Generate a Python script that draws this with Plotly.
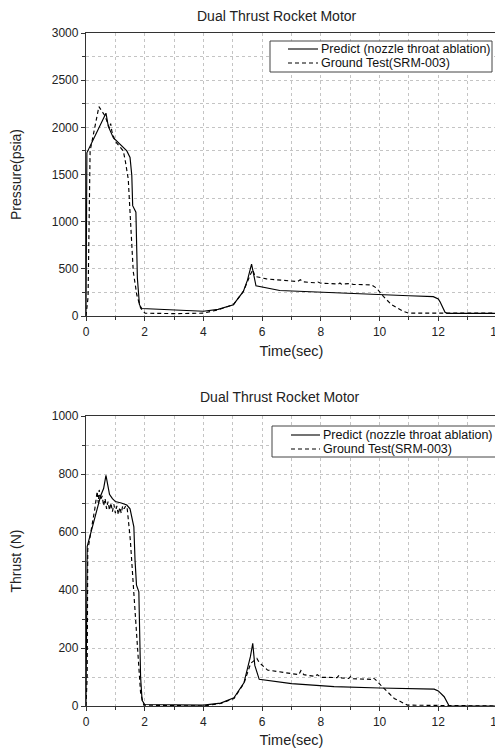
import plotly.graph_objects as go

# ---------------- data ----------------
# Pressure, Predict (nozzle throat ablation)
p_pred_t = [0.00, 0.03, 0.68, 0.76, 0.93, 1.10, 1.39, 1.50, 1.56, 1.59, 1.67, 1.70, 1.75, 1.82, 1.90,
            2.5, 3.0, 3.5, 4.0, 4.5, 5.02, 5.36, 5.50, 5.64, 5.72, 5.79, 6.6, 8.0, 10.0, 11.0, 11.83,
            12.0, 12.06, 12.15, 12.23, 12.3, 14.0]
p_pred_v = [0, 1730, 2150, 2010, 1890, 1840, 1750, 1680, 1490, 1170, 1120, 1100, 400, 120, 80,
            70, 62, 55, 50, 70, 120, 260, 380, 550, 420, 320, 270, 250, 225, 215, 205,
            180, 150, 100, 40, 28, 28]

# Pressure, Ground Test(SRM-003)
p_test_t = [0.00, 0.07, 0.14, 0.44, 0.65, 0.80, 0.84, 0.88, 0.99, 1.16, 1.27, 1.33, 1.44, 1.50, 1.56,
            1.61, 1.73, 1.86, 2.01, 3.0, 4.0, 4.5, 5.02, 5.36, 5.60, 5.68, 5.76, 6.15, 7.2, 7.3,
            7.4, 7.8, 7.9, 8.0, 8.6, 8.65, 8.7, 9.0, 9.1, 9.73, 9.9, 10.13, 10.41, 10.81, 11.0, 14.0]
p_test_v = [0, 200, 1750, 2220, 2120, 1990, 2040, 1960, 1855, 1785, 1750, 1660, 1450, 1100, 750,
            470, 225, 85, 30, 25, 30, 65, 120, 260, 440, 490, 420, 393, 365, 385,
            362, 352, 360, 348, 340, 350, 338, 345, 335, 330, 295, 207, 119, 49, 30, 30]

# Thrust, Predict (nozzle throat ablation)
f_pred_t = [0.00, 0.04, 0.50, 0.60, 0.68, 0.75, 0.80, 0.90, 1.00, 1.20, 1.39, 1.50, 1.63, 1.67, 1.72,
            1.80, 1.83, 1.86, 1.91, 2.00, 4.00, 4.59, 5.04, 5.38, 5.60, 5.68, 5.75, 5.90, 7.0, 8.45,
            10.0, 11.86, 12.0, 12.2, 12.37, 14.0]
f_pred_v = [0, 550, 725, 750, 795, 760, 730, 715, 705, 700, 693, 680, 618, 503, 417,
            394, 273, 100, 20, 5, 3, 10, 28, 80, 170, 216, 140, 92, 77, 67,
            62, 58, 52, 32, 0, 0]

# Thrust, Ground Test(SRM-003)
f_test_t = [0.00, 0.04, 0.06, 0.10, 0.30, 0.38, 0.42, 0.45, 0.50, 0.55, 0.60, 0.65, 0.70, 0.75, 0.80,
            0.85, 0.90, 0.95, 1.00, 1.05, 1.10, 1.15, 1.20, 1.25, 1.30, 1.35, 1.40, 1.51, 1.63, 1.74,
            1.86, 1.97, 4.00, 4.59, 5.04, 5.38, 5.61, 5.82, 5.90, 6.18, 7.0, 7.25, 7.32, 7.42, 7.8,
            7.88, 8.0, 8.55, 8.62, 8.7, 8.95, 9.02, 9.1, 9.7, 9.78, 9.85, 10.04, 10.5, 10.95, 14.0]
f_test_v = [0, 100, 540, 560, 680, 740, 700, 745, 710, 725, 690, 715, 680, 705, 675,
            700, 670, 695, 665, 690, 660, 685, 665, 690, 680, 690, 685, 572, 389, 216,
            44, 3, 0, 9, 26, 78, 147, 164, 150, 124, 112, 108, 122, 108, 102,
            108, 99, 98, 106, 97, 95, 102, 94, 92, 97, 92, 72, 26, 3, 0]

name_pred = "Predict (nozzle throat ablation)"
name_test = "Ground Test(SRM-003)"
title_text = "Dual Thrust Rocket Motor"

# ---------------- figure ----------------
OFF = 8  # page body margin: figure starts 8 px from the page corner
W, H = 503 - OFF, 748 - OFF
ML, MR, MT, MB = 86 - OFF, 6, 33 - OFF, 42
PH = H - MT - MB
PW = W - ML - MR

def py(pix):  # page pixel y -> paper y
    return (H - MB - (pix - OFF)) / PH

def px(pix):  # page pixel x -> paper x
    return ((pix - OFF) - ML) / PW

DASH = "4px,3px"
fig = go.Figure()
line_w = 1.15
fig.add_trace(go.Scatter(x=p_pred_t, y=p_pred_v, mode="lines", name=name_pred,
                         line=dict(color="black", width=line_w), xaxis="x", yaxis="y"))
fig.add_trace(go.Scatter(x=p_test_t, y=p_test_v, mode="lines", name=name_test,
                         line=dict(color="black", width=line_w, dash=DASH), xaxis="x", yaxis="y"))
fig.add_trace(go.Scatter(x=f_pred_t, y=f_pred_v, mode="lines", name=name_pred,
                         line=dict(color="black", width=line_w), xaxis="x2", yaxis="y2"))
fig.add_trace(go.Scatter(x=f_test_t, y=f_test_v, mode="lines", name=name_test,
                         line=dict(color="black", width=line_w, dash=DASH), xaxis="x2", yaxis="y2"))

grid = dict(showgrid=True, gridcolor="#c4c4c4", griddash="dot", gridwidth=1)
font_fam = "Liberation Sans, Arial, sans-serif"

def xax(anchor):
    return dict(range=[0, 14], dtick=2, tick0=0, ticks="outside", ticklen=4, tickcolor="#333",
                showline=True, linecolor="#333", linewidth=1.3, mirror=True, zeroline=False,
                tickfont=dict(size=12, color="#222"), anchor=anchor, automargin=False,
                ticklabeloverflow="allow",
                title=dict(text="Time(sec)", font=dict(size=14.5, color="#222"), standoff=8),
                minor=dict(dtick=1, ticks="outside", ticklen=3, tickcolor="#333", **grid), **grid)

def yax(rng, dt, mdt, title, dom, anchor):
    return dict(range=rng, dtick=dt, tick0=0, ticks="outside", ticklen=4, tickcolor="#333",
                showline=True, linecolor="#333", linewidth=1.3, mirror=True, zeroline=False,
                tickfont=dict(size=12, color="#222"), domain=dom, anchor=anchor, automargin=False,
                title=dict(text=title, font=dict(size=14, color="#222"), standoff=26),
                minor=dict(dtick=mdt, ticks="outside", ticklen=3, tickcolor="#333", **grid), **grid)

# manual legends (box + line samples + labels)
shapes = []
annotations = []

def legend(x0, x1, y0, y1, l0, l1, ya, yb):
    shapes.append(dict(type="rect", xref="paper", yref="paper", x0=px(x0), x1=px(x1), y0=py(y1), y1=py(y0),
                       line=dict(color="#444", width=1), fillcolor="white", layer="above"))
    shapes.append(dict(type="line", xref="paper", yref="paper", x0=px(l0), x1=px(l1), y0=py(ya), y1=py(ya),
                       line=dict(color="black", width=1.1), layer="above"))
    shapes.append(dict(type="line", xref="paper", yref="paper", x0=px(l0), x1=px(l1), y0=py(yb), y1=py(yb),
                       line=dict(color="black", width=1.1, dash=DASH), layer="above"))
    for txt, yy in ((name_pred, ya), (name_test, yb)):
        annotations.append(dict(text=txt, x=px(l1 + 1), y=py(yy), xref="paper", yref="paper",
                                showarrow=False, xanchor="left", yanchor="middle",
                                font=dict(size=12.5, color="#111")))

legend(270, 492, 41, 72, 288, 318, 49, 63)
legend(272, 501, 426, 457, 291, 320, 435, 449)

for yy, xx in ((16, 277), (397, 280)):
    annotations.append(dict(text=title_text, x=px(xx), y=py(yy), xref="paper", yref="paper", showarrow=False,
                            xanchor="center", yanchor="middle", font=dict(size=14, color="#222")))

fig.update_layout(
    width=W, height=H, margin=dict(l=ML, r=MR, t=MT, b=MB, autoexpand=False),
    paper_bgcolor="white", plot_bgcolor="white",
    font=dict(family=font_fam, color="#222"),
    xaxis=xax("y"), yaxis=yax([0, 3000], 500, 250, "Pressure(psia)", [py(316), 1], "x"),
    xaxis2=xax("y2"), yaxis2=yax([0, 1000], 200, 100, "Thrust (N)", [0, py(416)], "x2"),
    showlegend=False,
    shapes=shapes,
    annotations=annotations,
)

fig.write_html("out.html")
